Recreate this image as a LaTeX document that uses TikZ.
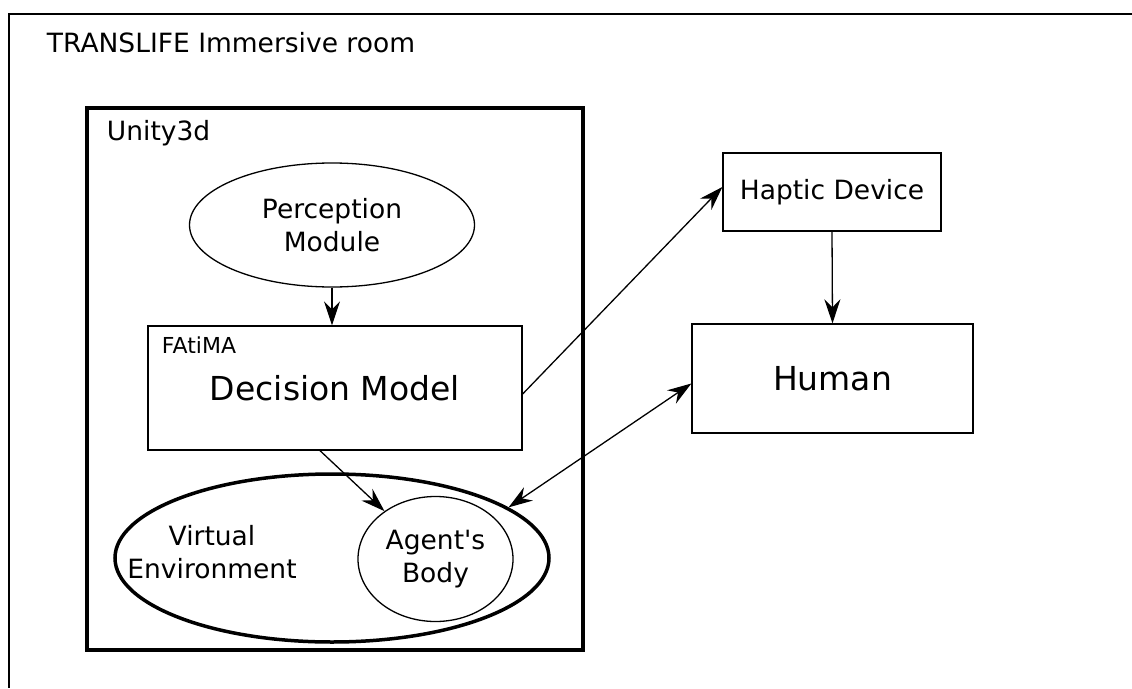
\documentclass[tikz,border=0pt]{standalone}
\usepackage{fontspec}
\setmainfont{DejaVu Sans}
\usetikzlibrary{shapes.geometric,arrows.meta}
\newcommand\straightquote{\XeTeXglyph\XeTeXcharglyph"0027\relax}

\begin{document}
\begin{tikzpicture}[x=1pt,y=-1pt,line width=1.3pt,
  txt/.style={font=\fontsize{26.5}{33}\selectfont,align=center},
  box/.style={draw,rectangle,inner sep=0pt,txt},
  oval/.style={draw,ellipse,inner sep=0pt,txt},
  arr/.style={-{Stealth[length=24pt,width=16pt,inset=8pt]}},
  darr/.style={{Stealth[length=24pt,width=16pt,inset=8pt]}-{Stealth[length=24pt,width=16pt,inset=8pt]}}]
\useasboundingbox (0,0) rectangle (1132,688);
\draw (1132,14) -- (9,14) -- (9,688); %room frame
\node[txt,anchor=base west] (room) at (43,52) {TRANSLIFE Immersive room};
\draw[line width=4pt] (86.5,107.5) rectangle (583,650); %unity3d
\node[txt,anchor=base west] (unity) at (103,140) {Unity3d};

\node[oval,minimum width=285,minimum height=124] (perception) at (332,225) {Perception\\Module};
\node[box,minimum width=374,minimum height=124,font=\fontsize{33}{40}\selectfont] (decision) at (335,388) {Decision Model};
\node[anchor=base west,font=\fontsize{22}{26}\selectfont] (fatima) at (158,353) {FAtiMA};
\node[oval,line width=3.5pt,minimum width=434,minimum height=168] (venv) at (332,558) {};
\node[txt] (venvtext) at (212,552) {Virtual\\Environment};
\node[oval,minimum width=155,minimum height=125] (body) at (435.5,559) {Agent\straightquote s\\Body};
\node[box,minimum width=218,minimum height=78] (haptic) at (832,192) {Haptic Device};
\node[box,minimum width=281,minimum height=109,font=\fontsize{33}{40}\selectfont] (human) at (832.5,378.5) {Human};

\draw[arr] (perception.south) -- (perception.south |- decision.north);
\draw[arr] ([yshift=-6pt]decision.east) -- ([yshift=5pt]haptic.west);
\draw[arr] (haptic.south) -- (human.north);
\draw[arr] ([xshift=-15pt]decision.south) -- (body);
\draw[darr] ([yshift=-5pt]human.west) -- (venv.16); %human <-> environment
\end{tikzpicture}
\end{document}
